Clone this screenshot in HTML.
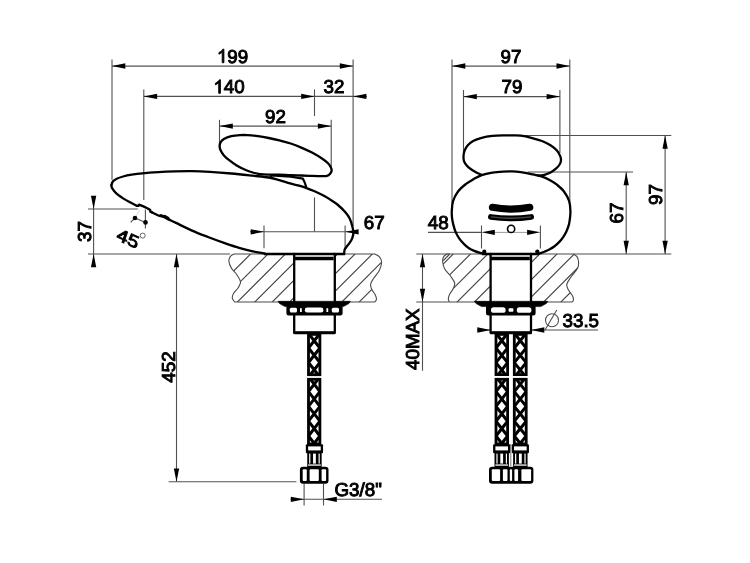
<!DOCTYPE html>
<html><head><meta charset="utf-8"><title>Dimensions</title>
<style>
html,body{margin:0;padding:0;background:#fff;}
body{width:750px;height:563px;overflow:hidden;font-family:"Liberation Sans",sans-serif;}
svg{display:block;will-change:transform;}
.dl{stroke:#505050;stroke-width:1.1;fill:none;}
.ar{fill:#000;stroke:none;}
.ol{stroke:#000;stroke-width:2.3;fill:none;stroke-linecap:round;stroke-linejoin:round;}
.ol2{stroke:#000;stroke-width:1.6;fill:none;stroke-linecap:round;stroke-linejoin:round;}
.ct{stroke:#4a4a4a;stroke-width:1.1;fill:none;}
.ht{stroke:#444;stroke-width:1.15;fill:none;}
text{font-family:"Liberation Sans",sans-serif;font-size:18.8px;fill:#000;stroke:#000;stroke-width:0.95px;text-rendering:geometricPrecision;}
</style></head>
<body>
<svg width="750" height="563" viewBox="0 0 750 563">
<rect x="0" y="0" width="750" height="563" fill="#fff"/>
<clipPath id="hl"><path d="M234.30,254.00 C233.65,254.38 231.30,255.10 230.40,256.30 C229.50,257.50 228.73,259.23 228.90,261.20 C229.07,263.17 230.05,265.80 231.40,268.10 C232.75,270.40 235.48,272.68 237.00,275.00 C238.52,277.32 240.30,279.88 240.50,282.00 C240.70,284.12 239.37,285.78 238.20,287.70 C237.03,289.62 234.48,291.77 233.50,293.50 C232.52,295.23 232.10,296.68 232.30,298.10 C232.50,299.52 234.30,301.35 234.70,302.00 L374.70,302.00 C375.00,301.55 376.42,300.52 376.50,299.30 C376.58,298.08 375.98,296.33 375.20,294.70 C374.42,293.07 372.57,291.23 371.80,289.50 C371.03,287.77 370.32,286.13 370.60,284.30 C370.88,282.47 372.05,280.82 373.50,278.50 C374.95,276.18 377.95,273.10 379.30,270.40 C380.65,267.70 381.57,264.57 381.60,262.30 C381.63,260.03 380.65,258.18 379.50,256.80 C378.35,255.42 375.50,254.47 374.70,254.00 Z"/></clipPath>
<path d="M200.60,304.00 L252.60,252.00 M218.00,304.00 L270.00,252.00 M235.40,304.00 L287.40,252.00 M252.80,304.00 L304.80,252.00 M270.20,304.00 L322.20,252.00 M287.60,304.00 L339.60,252.00 M305.00,304.00 L357.00,252.00 M322.40,304.00 L374.40,252.00 M339.80,304.00 L391.80,252.00 M357.20,304.00 L409.20,252.00 " class="ht" clip-path="url(#hl)"/>
<path d="M234.30,254.00 C233.65,254.38 231.30,255.10 230.40,256.30 C229.50,257.50 228.73,259.23 228.90,261.20 C229.07,263.17 230.05,265.80 231.40,268.10 C232.75,270.40 235.48,272.68 237.00,275.00 C238.52,277.32 240.30,279.88 240.50,282.00 C240.70,284.12 239.37,285.78 238.20,287.70 C237.03,289.62 234.48,291.77 233.50,293.50 C232.52,295.23 232.10,296.68 232.30,298.10 C232.50,299.52 234.30,301.35 234.70,302.00 L374.70,302.00 C375.00,301.55 376.42,300.52 376.50,299.30 C376.58,298.08 375.98,296.33 375.20,294.70 C374.42,293.07 372.57,291.23 371.80,289.50 C371.03,287.77 370.32,286.13 370.60,284.30 C370.88,282.47 372.05,280.82 373.50,278.50 C374.95,276.18 377.95,273.10 379.30,270.40 C380.65,267.70 381.57,264.57 381.60,262.30 C381.63,260.03 380.65,258.18 379.50,256.80 C378.35,255.42 375.50,254.47 374.70,254.00 Z" class="ct"/>
<rect x="294" y="254.0" width="40.8" height="79.0" fill="#fff"/>
<line class="dl" x1="112.00" y1="59.60" x2="112.00" y2="180.00"/>
<line class="dl" x1="353.10" y1="59.60" x2="353.10" y2="226.00"/>
<line class="dl" x1="112.00" y1="66.10" x2="353.10" y2="66.10"/>
<polygon class="ar" points="112.00,66.00 125.30,63.35 125.30,68.65"/>
<polygon class="ar" points="353.10,66.00 339.80,63.35 339.80,68.65"/>
<path d="M759,0 L579,0 L579,1147 Q514,1085 408.5,1023 Q303,961 219,930 L219,1104 Q370,1175 483,1276 Q596,1377 643,1472 L759,1472 Z" transform="translate(216.92 62.70) scale(0.00918 -0.00918)" fill="#000" stroke="#000" stroke-width="103.5" stroke-linejoin="round"/><text x="227.37" y="62.70">9</text><text x="237.83" y="62.70">9</text>
<line class="dl" x1="143.80" y1="89.40" x2="143.80" y2="200.00"/>
<line class="dl" x1="143.80" y1="96.40" x2="367.00" y2="96.40"/>
<polygon class="ar" points="143.80,96.40 157.10,93.75 157.10,99.05"/>
<polygon class="ar" points="314.50,96.40 301.20,93.75 301.20,99.05"/>
<polygon class="ar" points="353.10,96.40 366.40,93.75 366.40,99.05"/>
<line class="dl" x1="314.50" y1="89.40" x2="314.50" y2="116.00"/>
<line class="dl" x1="314.50" y1="197.40" x2="314.50" y2="231.60"/>
<path d="M759,0 L579,0 L579,1147 Q514,1085 408.5,1023 Q303,961 219,930 L219,1104 Q370,1175 483,1276 Q596,1377 643,1472 L759,1472 Z" transform="translate(213.42 93.30) scale(0.00918 -0.00918)" fill="#000" stroke="#000" stroke-width="103.5" stroke-linejoin="round"/><text x="223.87" y="93.30">4</text><text x="234.33" y="93.30">0</text>
<text x="334.00" y="93.40" text-anchor="middle">32</text>
<line class="dl" x1="219.50" y1="119.80" x2="219.50" y2="146.00"/>
<line class="dl" x1="331.20" y1="119.80" x2="331.20" y2="167.00"/>
<line class="dl" x1="219.50" y1="126.10" x2="331.20" y2="126.10"/>
<polygon class="ar" points="219.50,126.10 232.80,123.45 232.80,128.75"/>
<polygon class="ar" points="331.20,126.10 317.90,123.45 317.90,128.75"/>
<text x="275.50" y="123.20" text-anchor="middle">92</text>
<line class="dl" x1="264.00" y1="225.60" x2="264.00" y2="248.20"/>
<line class="dl" x1="345.10" y1="225.60" x2="345.10" y2="249.00"/>
<line class="dl" x1="250.00" y1="231.80" x2="357.50" y2="231.80"/>
<polygon class="ar" points="264.00,231.80 250.70,229.15 250.70,234.45"/>
<polygon class="ar" points="345.30,231.80 358.60,229.15 358.60,234.45"/>
<text x="374.30" y="228.60" text-anchor="middle">67</text>
<line class="dl" x1="88.00" y1="209.00" x2="137.80" y2="209.00"/>
<line class="dl" x1="88.00" y1="254.00" x2="230.00" y2="254.00"/>
<line class="dl" x1="93.60" y1="196.00" x2="93.60" y2="267.00"/>
<polygon class="ar" points="93.60,209.00 90.95,195.70 96.25,195.70"/>
<polygon class="ar" points="93.60,254.00 90.95,267.30 96.25,267.30"/>
<text x="90.50" y="231.50" text-anchor="middle" transform="rotate(-90 90.50 231.50)">37</text>
<line class="dl" x1="176.50" y1="254.00" x2="176.50" y2="481.80"/>
<polygon class="ar" points="176.50,254.00 173.85,267.30 179.15,267.30"/>
<polygon class="ar" points="176.50,481.80 173.85,468.50 179.15,468.50"/>
<line class="dl" x1="168.60" y1="481.80" x2="296.40" y2="481.80"/>
<text x="174.80" y="367.00" text-anchor="middle" transform="rotate(-90 174.80 367.00)">452</text>
<line class="dl" x1="304.10" y1="484.00" x2="304.10" y2="505.50"/>
<line class="dl" x1="323.50" y1="484.00" x2="323.50" y2="505.50"/>
<line class="dl" x1="290.50" y1="499.30" x2="382.00" y2="499.30"/>
<polygon class="ar" points="304.10,499.30 290.80,496.65 290.80,501.95"/>
<polygon class="ar" points="323.50,499.30 336.80,496.65 336.80,501.95"/>
<text x="358.20" y="495.70" text-anchor="middle">G3/8&quot;</text>
<line class="dl" x1="145.40" y1="209.40" x2="145.40" y2="228.50"/>
<line x1="139.5" y1="210" x2="136.2" y2="216" stroke="#d8d8d8" stroke-width="1"/>
<line class="dl" x1="134.90" y1="218.00" x2="130.60" y2="222.40"/>
<line class="dl" x1="135.00" y1="218.00" x2="145.60" y2="222.40"/>
<circle cx="135.0" cy="218.0" r="2.3" fill="#000"/><circle cx="145.5" cy="222.4" r="2.3" fill="#000"/>
<text x="0" y="0" font-style="italic" transform="translate(116.6 239.8) skewY(24.5) skewX(-6)">45</text>
<circle cx="142.7" cy="235.6" r="2.5" fill="none" stroke="#555" stroke-width="0.9"/>
<path class="ol" d="M111.40,185.10 C111.67,184.47 112.12,182.37 113.00,181.30 C113.88,180.23 115.02,179.50 116.70,178.70 C118.38,177.90 120.60,177.17 123.10,176.50 C125.60,175.83 128.50,175.23 131.70,174.70 C134.90,174.17 137.87,173.73 142.30,173.30 C146.73,172.87 152.97,172.42 158.30,172.10 C163.63,171.78 168.68,171.55 174.30,171.40 C179.92,171.25 186.05,171.12 192.00,171.20 C197.95,171.28 203.45,171.52 210.00,171.90 C216.55,172.28 224.18,172.87 231.30,173.50 C238.42,174.13 246.47,175.03 252.70,175.70 C258.93,176.37 264.27,176.75 268.70,177.50 C273.13,178.25 275.75,179.22 279.30,180.20 C282.85,181.18 286.88,182.53 290.00,183.40 C293.12,184.27 295.33,184.67 298.00,185.40 C300.67,186.13 303.33,186.87 306.00,187.80 C308.67,188.73 311.33,189.83 314.00,191.00 C316.67,192.17 319.33,193.40 322.00,194.80 C324.67,196.20 327.33,197.70 330.00,199.40 C332.67,201.10 335.40,202.80 338.00,205.00 C340.60,207.20 343.63,210.30 345.60,212.60 C347.57,214.90 348.65,216.40 349.80,218.80 C350.95,221.20 351.90,224.65 352.50,227.00 C353.10,229.35 353.45,231.02 353.40,232.90 C353.35,234.78 352.83,236.63 352.20,238.30 C351.57,239.97 350.55,241.47 349.60,242.90 C348.65,244.33 347.33,245.75 346.50,246.90 C345.67,248.05 344.98,248.62 344.60,249.80 C344.22,250.98 344.27,253.30 344.20,254.00"/>
<path class="ol" d="M111.40,185.10 C111.48,185.53 111.45,186.73 111.90,187.70 C112.35,188.67 113.12,189.73 114.10,190.90 C115.08,192.07 116.30,193.45 117.80,194.70 C119.30,195.95 121.15,197.17 123.10,198.40 C125.05,199.63 127.18,200.85 129.50,202.10 C131.82,203.35 135.75,205.27 137.00,205.90"/>
<path class="ol" d="M137,205.9 L138.3,205.9 L139.1,204.6 L143.4,206.4 L147.7,208.5 L150.3,210.1 L150.3,211.7 L151.9,212.3"/>
<path class="ol" d="M151.90,212.30 C152.97,212.83 156.17,214.68 158.30,215.50 C160.43,216.32 162.92,216.52 164.70,217.20 C166.48,217.88 167.12,218.65 169.00,219.60 C170.88,220.55 172.17,221.07 176.00,222.90 C179.83,224.73 186.67,228.25 192.00,230.60 C197.33,232.95 202.67,234.95 208.00,237.00 C213.33,239.05 218.67,241.03 224.00,242.90 C229.33,244.77 235.20,246.78 240.00,248.20 C244.80,249.62 249.07,250.57 252.80,251.40 C256.53,252.23 260.20,252.77 262.40,253.20 C264.60,253.63 265.40,253.87 266.00,254.00"/>
<path d="M159.4,215.8 L160.8,214.9 L164.2,216" stroke="#000" stroke-width="1.8" fill="none" stroke-linecap="round"/>
<path d="M164.6,216.6 L168,218.5" stroke="#000" stroke-width="3.4" fill="none" stroke-linecap="round"/>
<line x1="264" y1="254.0" x2="344.6" y2="254.0" stroke="#000" stroke-width="2.7"/>
<path class="ol" d="M219.60,146.30 C219.60,144.88 219.98,143.33 220.70,142.10 C221.42,140.87 222.13,139.88 223.90,138.90 C225.67,137.92 228.63,136.83 231.30,136.20 C233.97,135.57 237.23,135.28 239.90,135.10 C242.57,134.92 244.28,134.92 247.30,135.10 C250.32,135.28 254.43,135.72 258.00,136.20 C261.57,136.68 265.15,137.32 268.70,138.00 C272.25,138.68 275.63,139.38 279.30,140.30 C282.97,141.22 287.03,142.28 290.70,143.50 C294.37,144.72 297.75,146.08 301.30,147.60 C304.85,149.12 308.43,150.70 312.00,152.60 C315.57,154.50 320.03,157.22 322.70,159.00 C325.37,160.78 326.63,161.88 328.00,163.30 C329.37,164.72 330.30,166.27 330.90,167.50 C331.50,168.73 331.77,169.63 331.60,170.70 C331.43,171.77 330.68,173.03 329.90,173.90 C329.12,174.77 328.10,175.53 326.90,175.90 C325.70,176.27 325.18,176.10 322.70,176.10 C320.22,176.10 315.57,176.00 312.00,175.90 C308.43,175.80 304.85,175.62 301.30,175.50 C297.75,175.38 294.37,175.33 290.70,175.20 C287.03,175.07 282.80,174.80 279.30,174.70 C275.80,174.60 272.90,174.70 269.70,174.60 C266.50,174.50 262.93,174.45 260.10,174.10 C257.27,173.75 255.18,173.22 252.70,172.50 C250.22,171.78 247.87,170.97 245.20,169.80 C242.53,168.63 239.37,167.10 236.70,165.50 C234.03,163.90 231.33,161.88 229.20,160.20 C227.07,158.52 225.32,157.00 223.90,155.40 C222.48,153.80 221.42,152.12 220.70,150.60 C219.98,149.08 219.60,147.72 219.60,146.30Z"/>
<path class="ol2" style="stroke-width:2.2" d="M270.3,177.3 L271.3,175.4 L290.7,176.7 L302.9,178.7 L304.5,182 L306.1,186.7"/>
<line class="ol" x1="294.20" y1="254.00" x2="294.20" y2="302.00"/>
<line class="ol" x1="334.80" y1="254.00" x2="334.80" y2="302.00"/>
<line x1="294.2" y1="258.5" x2="333.6" y2="258.5" stroke="#000" stroke-width="3.4"/>
<path d="M278,301.3 L350.4,301.3 L348.9,303.6 L343.4,306.6 L285,306.6 L279.5,303.6 Z" fill="#000" stroke="#000" stroke-width="0.6" stroke-linejoin="round"/>
<rect x="286.4" y="305" width="56.200000000000024" height="10.6" rx="2.5" fill="#000"/>
<path class="ol" d="M294.2,315 L294.2,331.5 Q294.2,332.9 295.5,332.9 L333.5,332.9 Q334.8,332.9 334.8,331.5 L334.8,315" stroke-width="2.5"/>
<line x1="294.7" y1="332.8" x2="334.3" y2="332.8" stroke="#000" stroke-width="3.1" stroke-linecap="round"/>
<rect x="289.8" y="307.8" width="7.2" height="4.6" rx="1.5" fill="#fff"/>
<rect x="300" y="308.2" width="1.8" height="3.8" fill="#fff"/>
<rect x="304.8" y="307.6" width="18.6" height="5" rx="2.4" fill="#fff"/>
<rect x="326.4" y="308.2" width="1.8" height="3.8" fill="#fff"/>
<rect x="331.8" y="307.8" width="7.2" height="4.6" rx="1.5" fill="#fff"/>
<clipPath id="c3071_3330"><rect x="307.1" y="333.0" width="14.199999999999989" height="43.10000000000002"/></clipPath>
<path d="M308.50,319.05 L319.90,333.55 M319.90,319.05 L308.50,333.55 M308.50,333.55 L319.90,348.05 M319.90,333.55 L308.50,348.05 M308.50,348.05 L319.90,362.55 M319.90,348.05 L308.50,362.55 M308.50,362.55 L319.90,377.05 M319.90,362.55 L308.50,377.05 " stroke="#000" stroke-width="3.0" fill="none" clip-path="url(#c3071_3330)"/>
<rect x="308.50" y="334.40" width="11.40" height="40.30" fill="none" stroke="#000" stroke-width="2.8"/>
<clipPath id="c3071_3779"><rect x="307.1" y="377.9" width="14.199999999999989" height="67.40000000000003"/></clipPath>
<path d="M308.50,376.80 L319.90,391.60 M319.90,376.80 L308.50,391.60 M308.50,391.60 L319.90,406.40 M319.90,391.60 L308.50,406.40 M308.50,406.40 L319.90,421.20 M319.90,406.40 L308.50,421.20 M308.50,421.20 L319.90,436.00 M319.90,421.20 L308.50,436.00 M308.50,436.00 L319.90,450.80 M319.90,436.00 L308.50,450.80 " stroke="#000" stroke-width="3.0" fill="none" clip-path="url(#c3071_3779)"/>
<rect x="308.50" y="379.30" width="11.40" height="64.60" fill="none" stroke="#000" stroke-width="2.8"/>
<rect x="305.85" y="444.20" width="17.20" height="9.00" rx="1" fill="#000"/>
<rect x="308.15" y="446.40" width="12.60" height="4.00" rx="0" fill="#fff"/>
<rect x="307.25" y="453.00" width="14.40" height="14.00" rx="0" fill="#000"/>
<rect x="309.15" y="453.60" width="1.20" height="10.00" rx="0" fill="#fff"/>
<rect x="313.05" y="453.60" width="2.80" height="10.00" rx="0" fill="#fff"/>
<rect x="318.55" y="453.60" width="1.20" height="10.00" rx="0" fill="#fff"/>
<rect x="308.15" y="464.40" width="12.60" height="1.30" rx="0" fill="#fff"/>
<rect x="299.90" y="466.70" width="28.60" height="17.00" rx="3" fill="#000"/>
<rect x="302.70" y="469.20" width="4.10" height="11.80" rx="1" fill="#fff"/>
<rect x="309.60" y="469.20" width="9.20" height="11.80" rx="1" fill="#fff"/>
<rect x="321.60" y="469.20" width="4.50" height="11.80" rx="1" fill="#fff"/>
<clipPath id="hr"><path d="M446.70,254.00 C446.18,254.47 444.27,255.42 443.60,256.80 C442.93,258.18 442.48,260.23 442.70,262.30 C442.92,264.37 443.57,266.88 444.90,269.20 C446.23,271.52 449.07,273.88 450.70,276.20 C452.33,278.52 454.32,280.98 454.70,283.10 C455.08,285.22 453.87,286.98 453.00,288.90 C452.13,290.82 450.28,292.87 449.50,294.60 C448.72,296.33 448.30,298.07 448.30,299.30 C448.30,300.53 449.30,301.55 449.50,302.00 L572.00,302.00 C572.23,301.70 573.32,301.23 573.40,300.20 C573.48,299.17 573.32,297.50 572.50,295.80 C571.68,294.10 569.45,291.92 568.50,290.00 C567.55,288.08 566.42,286.42 566.80,284.30 C567.18,282.18 568.98,280.00 570.80,277.30 C572.62,274.60 576.42,270.78 577.70,268.10 C578.98,265.42 578.62,263.12 578.50,261.20 C578.38,259.28 577.90,257.80 577.00,256.60 C576.10,255.40 573.75,254.43 573.10,254.00 Z"/></clipPath>
<path d="M403.20,304.00 L455.20,252.00 M420.50,304.00 L472.50,252.00 M437.80,304.00 L489.80,252.00 M455.10,304.00 L507.10,252.00 M472.40,304.00 L524.40,252.00 M489.70,304.00 L541.70,252.00 M507.00,304.00 L559.00,252.00 M524.30,304.00 L576.30,252.00 M541.60,304.00 L593.60,252.00 M558.90,304.00 L610.90,252.00 " class="ht" clip-path="url(#hr)"/>
<path d="M446.70,254.00 C446.18,254.47 444.27,255.42 443.60,256.80 C442.93,258.18 442.48,260.23 442.70,262.30 C442.92,264.37 443.57,266.88 444.90,269.20 C446.23,271.52 449.07,273.88 450.70,276.20 C452.33,278.52 454.32,280.98 454.70,283.10 C455.08,285.22 453.87,286.98 453.00,288.90 C452.13,290.82 450.28,292.87 449.50,294.60 C448.72,296.33 448.30,298.07 448.30,299.30 C448.30,300.53 449.30,301.55 449.50,302.00 L572.00,302.00 C572.23,301.70 573.32,301.23 573.40,300.20 C573.48,299.17 573.32,297.50 572.50,295.80 C571.68,294.10 569.45,291.92 568.50,290.00 C567.55,288.08 566.42,286.42 566.80,284.30 C567.18,282.18 568.98,280.00 570.80,277.30 C572.62,274.60 576.42,270.78 577.70,268.10 C578.98,265.42 578.62,263.12 578.50,261.20 C578.38,259.28 577.90,257.80 577.00,256.60 C576.10,255.40 573.75,254.43 573.10,254.00 Z" class="ct"/>
<line x1="443.2" y1="260.6" x2="449.3" y2="254.5" class="ht"/>
<rect x="490.6" y="254.0" width="40.4" height="79.0" fill="#fff"/>
<line class="dl" x1="452.00" y1="59.60" x2="452.00" y2="210.00"/>
<line class="dl" x1="569.80" y1="59.60" x2="569.80" y2="204.00"/>
<line class="dl" x1="452.00" y1="66.10" x2="569.80" y2="66.10"/>
<polygon class="ar" points="452.00,66.00 465.30,63.35 465.30,68.65"/>
<polygon class="ar" points="569.80,66.00 556.50,63.35 556.50,68.65"/>
<text x="511.00" y="62.60" text-anchor="middle">97</text>
<line class="dl" x1="463.50" y1="90.00" x2="463.50" y2="156.00"/>
<line class="dl" x1="559.90" y1="90.00" x2="559.90" y2="153.00"/>
<line class="dl" x1="463.50" y1="96.60" x2="559.90" y2="96.60"/>
<polygon class="ar" points="463.50,96.60 476.80,93.95 476.80,99.25"/>
<polygon class="ar" points="559.90,96.60 546.60,93.95 546.60,99.25"/>
<text x="512.00" y="93.20" text-anchor="middle">79</text>
<line class="dl" x1="524.90" y1="135.50" x2="671.30" y2="135.50"/>
<line class="dl" x1="527.60" y1="172.00" x2="633.00" y2="172.00"/>
<line class="dl" x1="573.00" y1="254.00" x2="671.30" y2="254.00"/>
<line class="dl" x1="626.20" y1="172.00" x2="626.20" y2="254.00"/>
<polygon class="ar" points="626.20,172.00 623.55,185.30 628.85,185.30"/>
<polygon class="ar" points="626.20,254.00 623.55,240.70 628.85,240.70"/>
<line class="dl" x1="665.10" y1="135.50" x2="665.10" y2="254.00"/>
<polygon class="ar" points="665.10,135.50 662.45,148.80 667.75,148.80"/>
<polygon class="ar" points="665.10,254.00 662.45,240.70 667.75,240.70"/>
<text x="623.30" y="213.00" text-anchor="middle" transform="rotate(-90 623.30 213.00)">67</text>
<text x="662.30" y="194.50" text-anchor="middle" transform="rotate(-90 662.30 194.50)">97</text>
<line class="dl" x1="428.00" y1="232.40" x2="481.50" y2="232.40"/>
<line class="dl" x1="481.50" y1="225.50" x2="481.50" y2="248.50"/>
<line class="dl" x1="540.40" y1="225.50" x2="540.40" y2="248.50"/>
<line x1="494" y1="232.4" x2="528" y2="232.4" stroke="#9a9a9a" stroke-width="1"/>
<polygon class="ar" points="481.50,232.30 494.80,229.65 494.80,234.95"/>
<polygon class="ar" points="540.40,232.30 527.10,229.65 527.10,234.95"/>
<text x="438.30" y="228.50" text-anchor="middle">48</text>
<line class="dl" x1="416.30" y1="254.00" x2="450.00" y2="254.00"/>
<line class="dl" x1="416.30" y1="302.00" x2="449.00" y2="302.00"/>
<line class="dl" x1="422.50" y1="254.00" x2="422.50" y2="370.70"/>
<polygon class="ar" points="422.50,254.00 419.85,267.30 425.15,267.30"/>
<polygon class="ar" points="422.50,302.00 419.85,288.70 425.15,288.70"/>
<text x="419.40" y="339.20" text-anchor="middle" transform="rotate(-90 419.40 339.20)">40MAX</text>
<line class="dl" x1="477.00" y1="330.00" x2="490.60" y2="330.00"/>
<line class="dl" x1="531.00" y1="330.00" x2="598.00" y2="330.00"/>
<polygon class="ar" points="490.60,330.00 477.30,327.35 477.30,332.65"/>
<polygon class="ar" points="531.00,330.00 544.30,327.35 544.30,332.65"/>
<circle cx="552" cy="320.3" r="6.5" class="dl"/>
<line class="dl" x1="545.00" y1="330.00" x2="556.80" y2="310.00"/>
<text x="580.80" y="326.60" text-anchor="middle">33.5</text>
<path class="ol" d="M483.60,253.90 C483.35,253.82 482.83,253.60 482.10,253.40 C481.37,253.20 480.50,253.12 479.20,252.70 C477.90,252.28 475.93,251.60 474.30,250.90 C472.67,250.20 471.02,249.55 469.40,248.50 C467.78,247.45 466.22,246.15 464.60,244.60 C462.98,243.05 461.17,241.23 459.70,239.20 C458.23,237.17 456.87,234.83 455.80,232.40 C454.73,229.97 453.93,227.05 453.30,224.60 C452.67,222.15 452.25,219.98 452.00,217.70 C451.75,215.42 451.62,213.68 451.80,210.90 C451.98,208.12 452.03,204.27 453.10,201.00 C454.17,197.73 456.10,194.10 458.20,191.30 C460.30,188.50 463.22,186.18 465.70,184.20 C468.18,182.22 470.43,180.92 473.10,179.40 C475.77,177.88 478.50,176.22 481.70,175.10 C484.90,173.98 488.75,173.28 492.30,172.70 C495.85,172.12 499.72,171.82 503.00,171.60 C506.28,171.38 509.05,171.32 512.00,171.40 C514.95,171.48 517.48,171.65 520.70,172.10 C523.92,172.55 527.75,173.33 531.30,174.10 C534.85,174.87 538.80,175.63 542.00,176.70 C545.20,177.77 548.02,179.17 550.50,180.50 C552.98,181.83 554.68,182.90 556.90,184.70 C559.12,186.50 561.77,188.58 563.80,191.30 C565.83,194.02 568.00,197.73 569.10,201.00 C570.20,204.27 570.25,208.12 570.40,210.90 C570.55,213.68 570.25,215.42 570.00,217.70 C569.75,219.98 569.50,222.32 568.90,224.60 C568.30,226.88 567.38,229.28 566.40,231.40 C565.42,233.52 564.22,235.52 563.00,237.30 C561.78,239.08 560.57,240.57 559.10,242.10 C557.63,243.63 555.83,245.27 554.20,246.50 C552.57,247.73 550.93,248.63 549.30,249.50 C547.67,250.37 545.87,251.10 544.40,251.70 C542.93,252.30 541.57,252.73 540.50,253.10 C539.43,253.47 538.42,253.77 538.00,253.90"/>
<line x1="482" y1="254.0" x2="539" y2="254.0" stroke="#000" stroke-width="2.7"/>
<path class="ol" d="M481.70,174.90 C480.80,174.50 478.08,173.43 476.30,172.50 C474.52,171.57 472.60,170.47 471.00,169.30 C469.40,168.13 467.85,166.83 466.70,165.50 C465.55,164.17 464.63,162.80 464.10,161.30 C463.57,159.80 463.42,158.28 463.50,156.50 C463.58,154.72 463.88,152.47 464.60,150.60 C465.32,148.73 466.38,146.90 467.80,145.30 C469.22,143.70 470.78,142.25 473.10,141.00 C475.42,139.75 478.50,138.65 481.70,137.80 C484.90,136.95 488.75,136.32 492.30,135.90 C495.85,135.48 499.43,135.38 503.00,135.30 C506.57,135.22 510.75,135.33 513.70,135.40 C516.65,135.47 517.77,135.30 520.70,135.70 C523.63,136.10 527.75,136.92 531.30,137.80 C534.85,138.68 538.80,139.75 542.00,141.00 C545.20,142.25 548.02,143.70 550.50,145.30 C552.98,146.90 555.30,148.83 556.90,150.60 C558.50,152.37 559.42,154.30 560.10,155.90 C560.78,157.50 561.08,158.77 561.00,160.20 C560.92,161.63 560.45,163.08 559.60,164.50 C558.75,165.92 557.42,167.37 555.90,168.70 C554.38,170.03 552.28,171.52 550.50,172.50 C548.72,173.48 546.80,174.10 545.20,174.60 C543.60,175.10 542.15,175.38 540.90,175.50 C539.65,175.62 538.23,175.33 537.70,175.30"/>
<path d="M492.5,207.3 Q511.1,210.9 529.7,207.3" stroke="#000" stroke-width="7.2" fill="none" stroke-linecap="round"/>
<path d="M490.8,216.9 Q511.1,219.9 531.2,216.9" stroke="#000" stroke-width="5.6" fill="none" stroke-linecap="round"/>
<path d="M491.5,216.9 Q511.1,219.7 530.5,216.9" stroke="#484848" stroke-width="1.4" fill="none" stroke-linecap="round"/>
<circle cx="511.1" cy="228.9" r="3.6" fill="#fff" stroke="#000" stroke-width="1.6"/>
<circle cx="484.3" cy="251.6" r="2.1" fill="#000"/><circle cx="537.3" cy="251.6" r="2.1" fill="#000"/>
<line class="ol" x1="490.60" y1="254.00" x2="490.60" y2="302.00"/>
<line class="ol" x1="531.00" y1="254.00" x2="531.00" y2="302.00"/>
<line x1="490.6" y1="258.5" x2="529.8" y2="258.5" stroke="#000" stroke-width="3.4"/>
<path d="M474.6,301.3 L547.8,301.3 L546.3,303.6 L540.8,306.6 L481.6,306.6 L476.1,303.6 Z" fill="#000" stroke="#000" stroke-width="0.6" stroke-linejoin="round"/>
<rect x="486.0" y="305" width="49.59999999999998" height="10.6" rx="2.5" fill="#000"/>
<path class="ol" d="M490.6,315 L490.6,331.5 Q490.6,332.9 491.90000000000003,332.9 L529.7,332.9 Q531,332.9 531,331.5 L531,315" stroke-width="2.5"/>
<line x1="491.1" y1="332.8" x2="530.5" y2="332.8" stroke="#000" stroke-width="3.1" stroke-linecap="round"/>
<rect x="491" y="307.2" width="14.6" height="5.6" rx="2.6" fill="#fff"/>
<rect x="508.6" y="308.2" width="4.8" height="3.6" rx="0.8" fill="#fff"/>
<rect x="516.8" y="307.2" width="14.6" height="5.6" rx="2.6" fill="#fff"/>
<clipPath id="c4946_3330"><rect x="494.6" y="333.0" width="14.399999999999977" height="43.0"/></clipPath>
<path d="M496.00,318.55 L507.60,333.25 M507.60,318.55 L496.00,333.25 M496.00,333.25 L507.60,347.95 M507.60,333.25 L496.00,347.95 M496.00,347.95 L507.60,362.65 M507.60,347.95 L496.00,362.65 M496.00,362.65 L507.60,377.35 M507.60,362.65 L496.00,377.35 " stroke="#000" stroke-width="3.0" fill="none" clip-path="url(#c4946_3330)"/>
<rect x="496.00" y="334.40" width="11.60" height="40.20" fill="none" stroke="#000" stroke-width="2.8"/>
<clipPath id="c4946_3779"><rect x="494.6" y="377.9" width="14.399999999999977" height="67.40000000000003"/></clipPath>
<path d="M496.00,376.80 L507.60,391.60 M507.60,376.80 L496.00,391.60 M496.00,391.60 L507.60,406.40 M507.60,391.60 L496.00,406.40 M496.00,406.40 L507.60,421.20 M507.60,406.40 L496.00,421.20 M496.00,421.20 L507.60,436.00 M507.60,421.20 L496.00,436.00 M496.00,436.00 L507.60,450.80 M507.60,436.00 L496.00,450.80 " stroke="#000" stroke-width="3.0" fill="none" clip-path="url(#c4946_3779)"/>
<rect x="496.00" y="379.30" width="11.60" height="64.60" fill="none" stroke="#000" stroke-width="2.8"/>
<rect x="493.10" y="444.20" width="17.20" height="9.00" rx="1" fill="#000"/>
<rect x="495.40" y="446.40" width="12.60" height="4.00" rx="0" fill="#fff"/>
<rect x="494.50" y="453.00" width="14.40" height="14.00" rx="0" fill="#000"/>
<rect x="496.40" y="453.60" width="1.20" height="10.00" rx="0" fill="#fff"/>
<rect x="500.30" y="453.60" width="2.80" height="10.00" rx="0" fill="#fff"/>
<rect x="505.80" y="453.60" width="1.20" height="10.00" rx="0" fill="#fff"/>
<rect x="495.40" y="464.40" width="12.60" height="1.30" rx="0" fill="#fff"/>
<clipPath id="c5129_3330"><rect x="512.9" y="333.0" width="14.700000000000045" height="43.0"/></clipPath>
<path d="M514.30,318.55 L526.20,333.25 M526.20,318.55 L514.30,333.25 M514.30,333.25 L526.20,347.95 M526.20,333.25 L514.30,347.95 M514.30,347.95 L526.20,362.65 M526.20,347.95 L514.30,362.65 M514.30,362.65 L526.20,377.35 M526.20,362.65 L514.30,377.35 " stroke="#000" stroke-width="3.0" fill="none" clip-path="url(#c5129_3330)"/>
<rect x="514.30" y="334.40" width="11.90" height="40.20" fill="none" stroke="#000" stroke-width="2.8"/>
<clipPath id="c5129_3779"><rect x="512.9" y="377.9" width="14.700000000000045" height="67.40000000000003"/></clipPath>
<path d="M514.30,376.80 L526.20,391.60 M526.20,376.80 L514.30,391.60 M514.30,391.60 L526.20,406.40 M526.20,391.60 L514.30,406.40 M514.30,406.40 L526.20,421.20 M526.20,406.40 L514.30,421.20 M514.30,421.20 L526.20,436.00 M526.20,421.20 L514.30,436.00 M514.30,436.00 L526.20,450.80 M526.20,436.00 L514.30,450.80 " stroke="#000" stroke-width="3.0" fill="none" clip-path="url(#c5129_3779)"/>
<rect x="514.30" y="379.30" width="11.90" height="64.60" fill="none" stroke="#000" stroke-width="2.8"/>
<rect x="511.75" y="444.20" width="17.20" height="9.00" rx="1" fill="#000"/>
<rect x="514.05" y="446.40" width="12.60" height="4.00" rx="0" fill="#fff"/>
<rect x="513.15" y="453.00" width="14.40" height="14.00" rx="0" fill="#000"/>
<rect x="515.05" y="453.60" width="1.20" height="10.00" rx="0" fill="#fff"/>
<rect x="518.95" y="453.60" width="2.80" height="10.00" rx="0" fill="#fff"/>
<rect x="524.45" y="453.60" width="1.20" height="10.00" rx="0" fill="#fff"/>
<rect x="514.05" y="464.40" width="12.60" height="1.30" rx="0" fill="#fff"/>
<line x1="510.8" y1="444" x2="510.8" y2="466" stroke="#777" stroke-width="1"/>
<rect x="489.00" y="466.70" width="44.40" height="17.00" rx="3" fill="#000"/>
<rect x="491.80" y="469.20" width="8.30" height="11.80" rx="1" fill="#fff"/>
<rect x="502.90" y="469.20" width="4.60" height="11.80" rx="1" fill="#fff"/>
<rect x="509.80" y="469.20" width="2.30" height="11.80" rx="1" fill="#fff"/>
<rect x="514.40" y="469.20" width="3.70" height="11.80" rx="1" fill="#fff"/>
<rect x="521.40" y="469.20" width="9.70" height="11.80" rx="1" fill="#fff"/>
</svg>
</body></html>
